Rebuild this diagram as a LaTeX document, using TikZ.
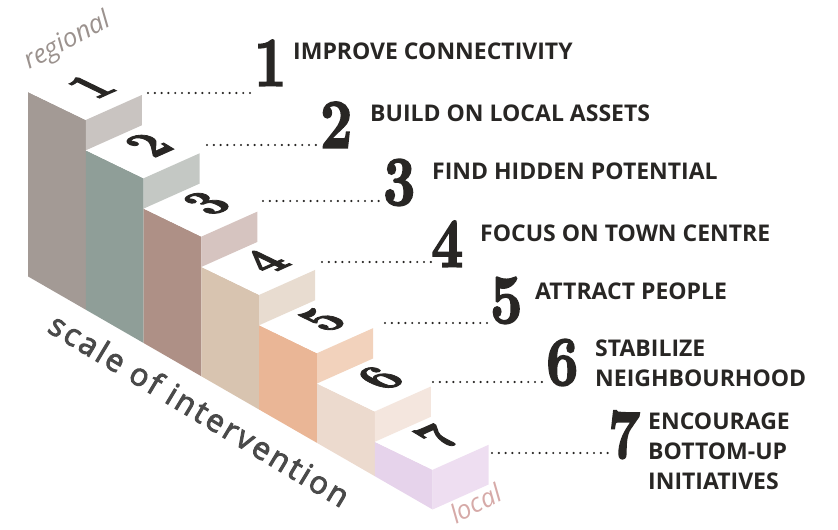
\documentclass[tikz,border=0pt]{standalone}
\usepackage{fontspec}
\setsansfont{Open Sans}
\newfontfamily\fatnum{lmroman10-bold.otf}[FakeBold=2.5]
\newfontfamily\floorfont{Open Sans}[FakeBold=3, LetterSpace=9]
\usetikzlibrary{calc}

\definecolor{ink}{RGB}{40,38,36}
\definecolor{stepa}{RGB}{163,154,149}
\definecolor{stepb}{RGB}{143,158,152}
\definecolor{stepc}{RGB}{174,144,134}
\definecolor{stepd}{RGB}{216,196,176}
\definecolor{stepe}{RGB}{234,182,150}
\definecolor{stepf}{RGB}{236,218,206}
\definecolor{stepg}{RGB}{230,211,235}
\definecolor{risea}{RGB}{201,196,193}
\definecolor{riseb}{RGB}{196,200,196}
\definecolor{risec}{RGB}{214,196,192}
\definecolor{rised}{RGB}{232,220,208}
\definecolor{risee}{RGB}{242,210,188}
\definecolor{risef}{RGB}{244,230,222}
\definecolor{riseg}{RGB}{238,222,241}
\definecolor{regcol}{RGB}{155,146,142}
\definecolor{loccol}{RGB}{214,170,168}
\definecolor{scalecol}{RGB}{74,74,74}

\begin{document}
\begin{tikzpicture}[
    x=1pt, y=-1pt,
    goal/.style={anchor=north west, inner sep=0pt, align=left, text=ink, font=\sffamily\bfseries\fontsize{23}{30}\selectfont},
    bignum/.style={anchor=south west, inner sep=0pt, xscale=0.8, text=ink, font=\fatnum\fontsize{70}{70}\selectfont},
    facenum/.style={inner sep=0pt, text=ink, font=\fatnum\fontsize{56}{56}\selectfont, cm={0.75,0.335,-0.9,0.436,(0,0)}},
    leader/.style={draw=ink, line width=2.4pt, line cap=round, dash pattern=on 0pt off 6.8pt},
    floor/.style={anchor=base west, inner sep=0pt, rotate=28, font=\sffamily\itshape\fontsize{26}{26}\selectfont}
]
\useasboundingbox (0,0) rectangle (838,530);

% Staircase: left faces and top faces
\foreach \i/\cl in {0/stepa, 1/stepb, 2/stepc, 3/stepd, 4/stepe, 5/stepf, 6/stepg} {
    \fill[\cl] ({28+57.8*\i},{92+58.3*\i}) -- ++(57.8,28)
        -- ({85.8+57.8*\i},{277+0.576*(56.8+57.8*\i)})
        -- ({28+57.8*\i},{277+0.576*(57.8*\i-1)}) -- cycle;
    \fill[white] ({28+57.8*\i},{92+58.3*\i}) -- ++(57.8,28) -- ++(56,-25) -- ++(-57.8,-28) -- cycle;
}
% Risers
\foreach \i/\cr in {0/risea, 1/riseb, 2/risec, 3/rised, 4/risee, 5/risef} {
    \fill[\cr] ({85.8+57.8*\i},{120+58.3*\i}) -- ++(56,-25) -- ++(0,30.3) -- ++(-56,25) -- cycle;
}
\fill[riseg] (432.6,469.8) -- ++(56,-25) -- ++(0,39.7) -- ++(-56,25) -- cycle;

% Numbers lying on the steps
\foreach \i [count=\n] in {0,...,6} {
    \node[facenum] (f\n) at ({91+57.8*\i},{86.5+58.3*\i}) {\n};
}

% Floor labels
\node[floor, text=regcol] (reg) at (29,70) {regional};
\node[floor, text=loccol] (loc) at (456,525) {local};
\node[anchor=base west, inner sep=0pt, text=scalecol, rotate=-31,
      font=\floorfont\fontsize{31}{31}\selectfont] (scale) at (46,331) {scale of intervention};

% Goal 1
\node[bignum] (n1) at (254,86) {1};
\node[goal] (g1) at (293,43) {IMPROVE CONNECTIVITY};
\coordinate (d1) at (148,93);
\draw[leader] (d1) -- (d1 -| n1.west);

% Goal 2
\node[bignum] (n2) at (320,148) {2};
\node[goal] (g2) at (370,105) {BUILD ON LOCAL ASSETS};
\coordinate (d2) at (207,145);
\draw[leader] (d2) -- (d2 -| n2.west);

% Goal 3
\node[bignum] (n3) at (383,206) {3};
\node[goal] (g3) at (432,163) {FIND HIDDEN POTENTIAL};
\coordinate (d3) at (263,201);
\draw[leader] (d3) -- (d3 -| n3.west);

% Goal 4
\node[bignum] (n4) at (431,267) {4};
\node[goal] (g4) at (480,225) {FOCUS ON TOWN CENTRE};
\coordinate (d4) at (322,262);
\draw[leader] (d4) -- (d4 -| n4.west);

% Goal 5
\node[bignum] (n5) at (490,324) {5};
\node[goal] (g5) at (535,283) {ATTRACT PEOPLE};
\coordinate (d5) at (385,323);
\draw[leader] (d5) -- (d5 -| n5.west);

% Goal 6
\node[bignum] (n6) at (546,386) {6};
\node[goal] (g6) at (595,340) {STABILIZE\\NEIGHBOURHOOD};
\coordinate (d6) at (433,382);
\draw[leader] (d6) -- (d6 -| n6.west);

% Goal 7
\node[bignum] (n7) at (608,459) {7};
\node[goal] (g7) at (648,413) {ENCOURAGE\\BOTTOM-UP\\INITIATIVES};
\coordinate (d7) at (492,453);
\draw[leader] (d7) -- (d7 -| n7.west);

\end{tikzpicture}
\end{document}
